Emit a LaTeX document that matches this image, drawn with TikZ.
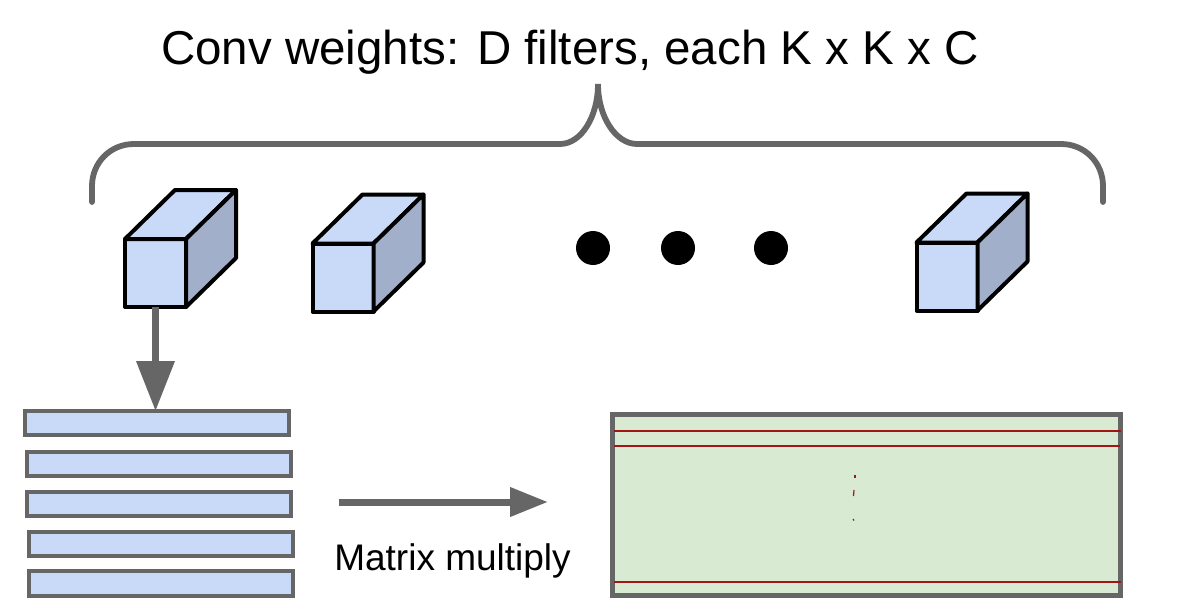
\documentclass[tikz,border=0pt]{standalone}
\usepackage{fontspec}
\setmainfont{Liberation Sans}
\usetikzlibrary{arrows.meta}
\definecolor{cfront}{HTML}{C9DAF8}
\definecolor{cside}{HTML}{A2AFCA}
\definecolor{gline}{HTML}{666666}
\definecolor{mgreen}{HTML}{D9EAD3}
\definecolor{mred}{HTML}{A31515}
\newcommand\filtercube[3]{%
  \node[cubefront] (#1) at (#2,#3) {};
  \draw[cubeedge, fill=cfront] (#1.north west) -- ++(50,-49) -- ++(61,0) -- (#1.north east) -- cycle;
  \draw[cubeedge, fill=cside] (#1.north east) -- ++(50,-49) -- ++(0,68) -- (#1.south east) -- cycle;
}
\begin{document}
\begin{tikzpicture}[x=1pt,y=-1pt,
  cubefront/.style={draw=black, line width=4pt, fill=cfront, rectangle, minimum width=61pt, minimum height=68pt, inner sep=0pt, outer sep=0pt, line join=round},
  cubeedge/.style={draw=black, line width=4pt, line join=round},
  bar/.style={draw=gline, line width=4pt, fill=cfront, rectangle, minimum width=264pt, minimum height=24pt, inner sep=0pt, outer sep=0pt},
  dot/.style={circle, fill=black, minimum size=34pt, inner sep=0pt},
  brace/.style={draw=gline, line width=5.8pt, line cap=round},
  bigarrow/.style={draw=gline, line width=7pt, -{Triangle[length=50pt,width=37pt]}},
  midarrow/.style={draw=gline, line width=7pt, -{Triangle[length=38pt,width=28pt]}},
  redline/.style={draw=mred, line width=1.8pt},
  title/.style={font=\fontsize{47.5}{50}\selectfont, inner sep=0pt, anchor=base},
  label/.style={font=\fontsize{37}{40}\selectfont, inner sep=0pt, anchor=base}
]
\useasboundingbox[fill=white] (0,0) rectangle (1180,615);

% title and brace
\node[title] (title) at (570,65) {Conv weights: D filters, each K x K x C};
\draw[brace] (92,202) -- (92,186) .. controls (92,163) and (110,144) .. (134,144)
  -- (560,144) .. controls (581,144) and (598,117) .. (598,84)
  .. controls (598,117) and (616,144) .. (637,144)
  -- (1061,144) .. controls (1085,144) and (1103,163) .. (1103,186) -- (1103,202);

% filters
\filtercube{c1}{155.5}{273}
\filtercube{c2}{343}{277.5}
\filtercube{c3}{947}{276.5}
\node[dot] (d1) at (593,248) {};
\node[dot] (d2) at (678,248) {};
\node[dot] (d3) at (771,248) {};

% stacked rows
\node[bar] (b1) at (157,423) {};
\node[bar] (b2) at (159,464) {};
\node[bar] (b3) at (159,504) {};
\node[bar] (b4) at (161,544) {};
\node[bar, minimum height=25pt] (b5) at (161,583.5) {};

\draw[bigarrow] (c1.south) -- (c1.south |- b1.north);

% matrix multiply arrow
\coordinate (ma) at (339,502);
\coordinate (mb) at (548,502);
\draw[midarrow] (ma) -- (mb);
\node[label] (mm) at (452.5,570) {Matrix multiply};

% output matrix
\node[draw=gline, line width=4.5pt, fill=mgreen, rectangle, minimum width=508pt, minimum height=181pt, inner sep=0pt, outer sep=0pt] (out) at (866.5,505) {};
\draw[redline] (614,431) -- (1121,431);
\draw[redline] (614,446) -- (1120,446);
\draw[redline] (614,582) -- (1121,582);
\draw[mred, line width=1.2pt] (855,475) -- (855,478);
\draw[mred, line width=1.2pt] (854,490) -- (853.5,496);
\draw[mred, line width=1.2pt] (853,519) -- (854,520.5);
\end{tikzpicture}
\end{document}
